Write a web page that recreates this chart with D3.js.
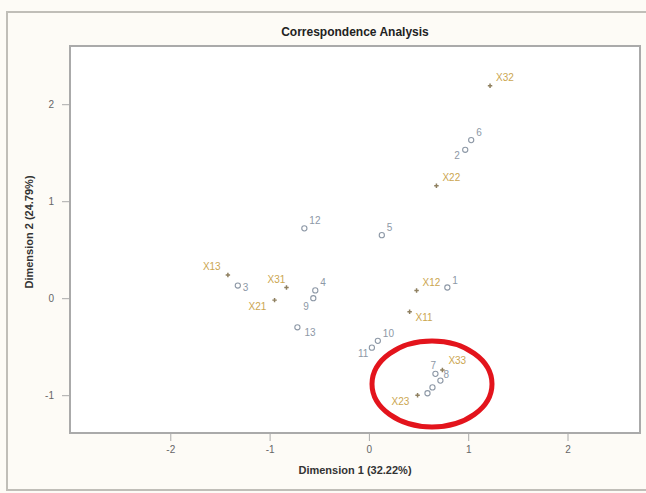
<!DOCTYPE html>
<html><head><meta charset="utf-8">
<script src="https://cdn.jsdelivr.net/npm/d3@7"></script>
<style>body{margin:0;background:#fff;}svg{display:block;}</style>
</head><body>
<script>
// Row points (numbered)
const rowLabels = ["1","2","3","4","5","6","7","8","9","10","11","12","13","",""];
const rowDim1   = [0.79, 0.97,-1.32,-0.54, 0.13, 1.03, 0.67, 0.72,-0.56, 0.09, 0.03,-0.65,-0.72, 0.64, 0.59];
const rowDim2   = [0.11, 1.53, 0.13, 0.08, 0.65, 1.63,-0.78,-0.85, 0.00,-0.44,-0.51, 0.72,-0.30,-0.92,-0.98];
// Column points (X..)
const colLabels = ["X11","X12","X13","X21","X22","X23","X31","X32","X33"];
const colDim1   = [0.41, 0.48,-1.42,-0.95, 0.68, 0.49,-0.83, 1.22, 0.74];
const colDim2   = [-0.14,0.08, 0.24,-0.02, 1.16,-1.00, 0.11, 2.19,-0.74];
const xTicks = [-2,-1,0,1,2];
const yTicks = [-1,0,1,2];

const W=646,H=493;
const svg=d3.select("body").append("svg").attr("width",W).attr("height",H);
svg.append("rect").attr("width",W).attr("height",H).attr("fill","#fdfbf6");
svg.append("rect").attr("x",7).attr("y",12).attr("width",W+10).attr("height",478)
  .attr("fill","#fdfbf6").attr("stroke","#c0beb8").attr("stroke-width",2);

const L=70,R=640,T=46,B=433;
const x=d3.scaleLinear().domain([-3.01,2.73]).range([L,R]);
const y=d3.scaleLinear().domain([-1.39,2.6]).range([B,T]);

svg.append("rect").attr("x",L).attr("y",T).attr("width",R-L).attr("height",B-T)
  .attr("fill","#ffffff").attr("stroke","#aaaaaa").attr("stroke-width",2);

const fmt=d=>String(d);
const ax=svg.append("g").attr("transform",`translate(0,${B+1})`)
  .call(d3.axisBottom(x).tickValues(xTicks).tickSize(7).tickPadding(5).tickFormat(fmt));
const ay=svg.append("g").attr("transform",`translate(${L-1},0)`)
  .call(d3.axisLeft(y).tickValues(yTicks).tickSize(7).tickPadding(8).tickFormat(fmt));
[ax,ay].forEach(g=>{
  g.select(".domain").remove();
  g.selectAll("line").attr("stroke","#aaa");
  g.selectAll("text").attr("fill","#666").style("font-family","Liberation Sans, Arial").style("font-size","10px");
});

svg.append("text").attr("x",355).attr("y",36).attr("text-anchor","middle")
  .style("font-family","Liberation Sans, Arial").style("font-weight","bold").style("font-size","12px")
  .attr("fill","#222").text("Correspondence Analysis");
svg.append("text").attr("x",355).attr("y",474).attr("text-anchor","middle")
  .style("font-family","Liberation Sans, Arial").style("font-weight","bold").style("font-size","11px")
  .attr("fill","#333").text("Dimension 1 (32.22%)");
svg.append("text").attr("transform","translate(33,232) rotate(-90)").attr("text-anchor","middle")
  .style("font-family","Liberation Sans, Arial").style("font-weight","bold").style("font-size","11px")
  .attr("fill","#333").text("Dimension 2 (24.79%)");

const rowCol="#8d98a6", colCol="#cba650";
const rows=rowLabels.map((l,i)=>({l,a:rowDim1[i],b:rowDim2[i]}));
const cols=colLabels.map((l,i)=>({l,a:colDim1[i],b:colDim2[i]}));

svg.selectAll(".rp").data(rows).enter().append("circle")
  .attr("cx",d=>x(d.a)).attr("cy",d=>y(d.b)).attr("r",2.6)
  .attr("fill","none").attr("stroke",rowCol).attr("stroke-width",1.1);
const rowOff={"2":[-11,9],"3":[5,5],"9":[-10,12],"11":[-14,9],"7":[-5,-5],"8":[3,-3],"13":[7,9]};
svg.selectAll(".rl").data(rows).enter().append("text")
  .attr("x",d=>x(d.a)+(rowOff[d.l]?rowOff[d.l][0]:5))
  .attr("y",d=>y(d.b)+(rowOff[d.l]?rowOff[d.l][1]:-4))
  .style("font-family","Liberation Sans, Arial").style("font-size","10px")
  .attr("fill",rowCol).text(d=>d.l);

svg.selectAll(".cp").data(cols).enter().append("path")
  .attr("d",d3.symbol().type(d3.symbolCross).size(11))
  .attr("transform",d=>`translate(${x(d.a)},${y(d.b)})`).attr("fill","#8f8060");
const colOff={"X13":[-25,-5],"X31":[-19,-5],"X21":[-26,10],"X23":[-26,10],"X11":[6,9],"X12":[6,-4],"X33":[6,-6]};
svg.selectAll(".cl").data(cols).enter().append("text")
  .attr("x",d=>x(d.a)+(colOff[d.l]?colOff[d.l][0]:6))
  .attr("y",d=>y(d.b)+(colOff[d.l]?colOff[d.l][1]:-5))
  .style("font-family","Liberation Sans, Arial").style("font-size","10px")
  .attr("fill",colCol).text(d=>d.l);

svg.append("ellipse").attr("cx",432).attr("cy",384).attr("rx",60).attr("ry",43)
  .attr("fill","none").attr("stroke","#e3141c").attr("stroke-width",5);
</script>
</body></html>
